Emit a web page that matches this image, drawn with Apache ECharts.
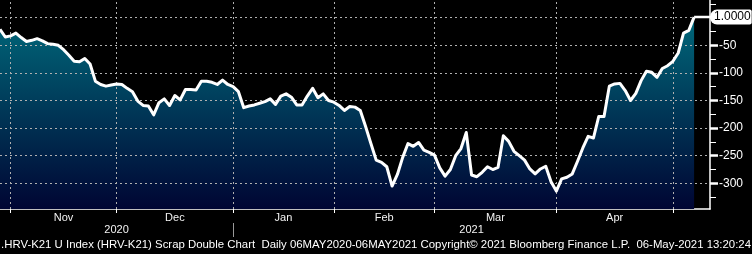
<!DOCTYPE html>
<html>
<head>
<meta charset="utf-8">
<script src="https://cdn.jsdelivr.net/npm/echarts@6/dist/echarts.min.js"></script>
<style>
html,body{margin:0;padding:0;background:#000;}
#chart{width:752px;height:254px;}
</style>
</head>
<body>
<div id="chart"></div>
<script>
// ---- data ----
const startDate = '2020-10-29';
const holidays = ['2020-11-26','2020-12-25','2021-01-01','2021-01-18','2021-02-15'];
const categoryCount = 135;
const values = [
  -21,-35,-33,-28,-36,-43,-41,-38,-42,-47,
  -48,-50,-58,-68,-79,-80,-74,-84,-115,-121,
  -124,-122,-120,-121,-128,-134,-151,-159,-160,-176,
  -154,-147,-159,-141,-149,-130,-130,-131,-115,-115,
  -117,-121,-113,-121,-125,-134,-163,-160,-158,-155,
  -152,-147,-157,-142,-138,-144,-158,-158,-142,-128,
  -145,-138,-150,-153,-159,-168,-161,-162,-168,-197,
  -228,-258,-262,-270,-305,-284,-253,-228,-233,-226,
  -240,-244,-249,-272,-287,-275,-250,-237,-208,-285,
  -288,-280,-270,-275,-271,-214,-224,-242,-250,-258,
  -274,-283,-274,-269,-297,-314,-292,-289,-283,-260,
  -236,-215,-218,-179,-179,-124,-120,-119,-132,-150,
  -137,-114,-97,-99,-108,-92,-87,-79,-64,-28,
  -23,1
];
const monthLabels = ['Nov','Dec','Jan','Feb','Mar','Apr'];
const yearLabels = ['2020','2021'];
const yTickValues = [-300,-250,-200,-150,-100,-50,0];
const yMinorTickValues = [-325,-275,-225,-175,-125,-75,-25,25];
const footerText = '.HRV-K21 U Index (HRV-K21) Scrap Double Chart  Daily 06MAY2020-06MAY2021 Copyright\u00A9 2021 Bloomberg Finance L.P.  06-May-2021 13:20:24';

// ---- categories (trading days) ----
const dates = [];
(function(){
  const d = new Date(startDate + 'T00:00:00Z');
  while (dates.length < categoryCount) {
    const s = d.toISOString().slice(0,10);
    const wd = d.getUTCDay();
    if (wd !== 0 && wd !== 6 && holidays.indexOf(s) < 0) dates.push(s);
    d.setUTCDate(d.getUTCDate() + 1);
  }
})();
const lastCat = dates.length - 1;

const monthStarts = [];
for (let i = 1; i < dates.length; i++) {
  if (dates[i].slice(0,7) !== dates[i-1].slice(0,7)) monthStarts.push(i);
}
const monthStartSet = new Set(monthStarts);
const monthMap = new Map();
const monthMid = [];
monthLabels.forEach((m, k) => {
  const mid = (monthStarts[k] + monthStarts[k+1]) / 2;
  monthMid.push(mid); monthMap.set(mid, m);
});
let yearBoundary = 0;
for (let i = 1; i < dates.length; i++) {
  if (dates[i].slice(0,4) !== dates[i-1].slice(0,4)) { yearBoundary = i; break; }
}
const yearMid = [yearBoundary / 2, (yearBoundary + lastCat) / 2];
const yearMap = new Map(); yearMid.forEach((v,k)=>yearMap.set(v, yearLabels[k]));

const lastIdx = values.length - 1;
const extension = dates.map((d, i) => i >= lastIdx ? values[lastIdx] : null);

const FONT = '"Liberation Sans", Arial, sans-serif';
const GRID_COLOR = '#b0b0b0';

const gridMarkLines = []
  .concat(yTickValues.map(v => ({ yAxis: v })))
  .concat(monthStarts.map(i => ({ xAxis: dates[i] })));

const chart = echarts.init(document.getElementById('chart'));
chart.setOption({
  backgroundColor: '#000',
  animation: false,
  grid: { left: 0, top: 0, right: 42, bottom: 45 },
  xAxis: [
    {
      type: 'category', data: dates, boundaryGap: false,
      axisLine: { onZero: false, lineStyle: { color: '#fff', width: 1.5 } },
      axisTick: { interval: (i) => monthStartSet.has(i), length: 4, lineStyle: { color: '#fff', width: 1 } },
      axisLabel: { show: false },
      splitLine: { show: false }
    },
    {
      type: 'value', min: 0, max: lastCat, position: 'bottom',
      axisLine: { show: false, onZero: false }, axisTick: { show: false }, splitLine: { show: false },
      axisLabel: { customValues: monthMid, formatter: (v) => monthMap.get(v) || '', margin: 3,
        color: '#f2f2f2', fontSize: 11, fontFamily: FONT }
    },
    {
      type: 'value', min: 0, max: lastCat, position: 'bottom', offset: 14,
      axisLine: { show: false, onZero: false }, splitLine: { show: false },
      axisTick: { show: true, customValues: [yearBoundary], length: 14, lineStyle: { color: '#9a9a9a', width: 1 } },
      axisLabel: { customValues: yearMid, formatter: (v) => yearMap.get(v) || '', margin: 1,
        color: '#f2f2f2', fontSize: 11, fontFamily: FONT }
    }
  ],
  yAxis: [
    {
      type: 'value', position: 'right', min: -346.5, max: 32,
      axisLine: { show: true, onZero: false, lineStyle: { color: '#fff', width: 1.5 } },
      axisTick: { show: true, customValues: yTickValues, length: 8, lineStyle: { color: '#fff', width: 2.5 } },
      axisLabel: { customValues: yTickValues, formatter: (v) => v === 0 ? '' : String(v), margin: 9,
        color: '#ffffff', fontSize: 12, fontFamily: FONT },
      splitLine: { show: false }
    },
    {
      type: 'value', position: 'right', min: -346.5, max: 32,
      axisLine: { show: false, onZero: false }, splitLine: { show: false },
      axisTick: { show: true, customValues: yMinorTickValues, length: 6, lineStyle: { color: '#fff', width: 1 } },
      axisLabel: { show: false }
    }
  ],
  series: [
    {
      type: 'line', data: values, zlevel: 0, symbol: 'none', showSymbol: false,
      lineStyle: { width: 0, opacity: 0 },
      areaStyle: { origin: 'start', opacity: 1,
        color: new echarts.graphic.LinearGradient(0, 0, 0, 1, [
          { offset: 0, color: '#00687a' },
          { offset: 1, color: '#000533' }
        ]) }
    },
    {
      type: 'line', data: values, zlevel: 1, symbol: 'none', showSymbol: false,
      lineStyle: { width: 0, opacity: 0 }, silent: true,
      markLine: { silent: true, symbol: ['none', 'none'], label: { show: false }, animation: false,
        lineStyle: { color: GRID_COLOR, type: [2, 3], width: 1, opacity: 1 },
        emphasis: { disabled: true },
        data: gridMarkLines }
    },
    {
      type: 'line', data: values, zlevel: 2, symbol: 'none', showSymbol: false,
      lineStyle: { color: '#ffffff', width: 3, join: 'round' }
    },
    {
      type: 'line', data: extension, zlevel: 2, symbol: 'none', showSymbol: false,
      lineStyle: { color: '#ffffff', width: 2.5 },
      endLabel: { show: true, formatter: (p) => Number(p.value).toFixed(4), distance: 0,
        backgroundColor: '#ffffff', color: '#000000', fontSize: 12, fontFamily: FONT,
        padding: [2, 1, 1, 4], borderRadius: [7, 2, 2, 7] }
    }
  ],
  graphic: [
    { type: 'text', left: 1, top: 239,
      style: { text: footerText, fill: '#ffffff', font: '11.4px ' + FONT } }
  ]
});
</script>
</body>
</html>
